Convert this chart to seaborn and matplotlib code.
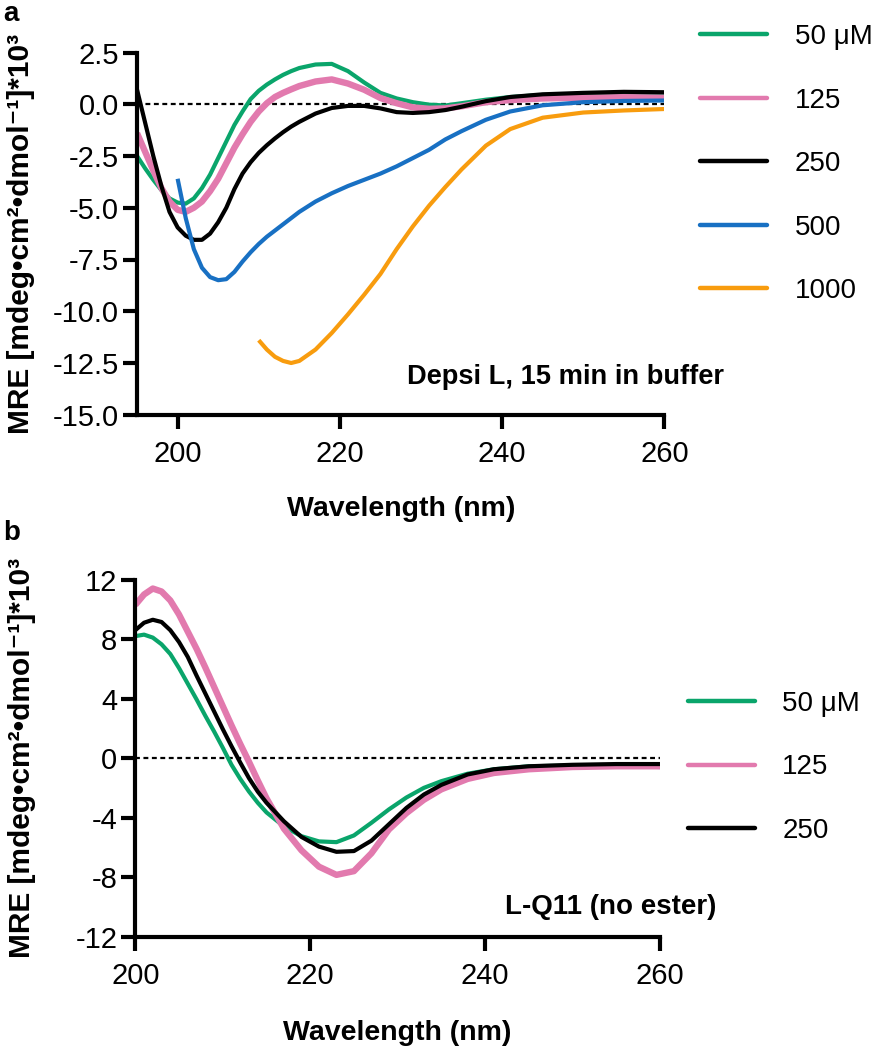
import matplotlib
matplotlib.use("Agg")
import matplotlib.pyplot as plt
from matplotlib.lines import Line2D
import seaborn as sns
import pandas as pd

# panel a: Depsi L, 15 min in buffer
wl_a = [195, 196, 197, 198, 199, 200, 201, 202, 203, 204, 205, 206, 207, 208,
        209, 210, 211, 212, 213, 214, 215, 217, 219, 221, 223, 225, 227, 229,
        231, 233, 235, 238, 241, 245, 250, 255, 260]
a_50 = [-2.5, -3.1, -3.65, -4.15, -4.55, -4.75, -4.8, -4.55, -4.05, -3.4, -2.6,
        -1.8, -1.0, -0.35, 0.25, 0.65, 0.95, 1.2, 1.42, 1.6, 1.75, 1.92, 1.95,
        1.6, 1.05, 0.55, 0.28, 0.1, -0.02, -0.06, 0.05, 0.22, 0.35, 0.45, 0.5,
        0.5, 0.5]
a_125 = [-1.4, -2.3, -3.2, -4.05, -4.7, -5.1, -5.2, -5.0, -4.7, -4.2, -3.6,
         -2.85, -2.1, -1.45, -0.85, -0.35, 0.05, 0.35, 0.55, 0.72, 0.88, 1.1,
         1.2, 1.0, 0.7, 0.3, 0.05, -0.15, -0.22, -0.2, -0.1, 0.1, 0.2, 0.28,
         0.32, 0.34, 0.32]
a_250 = [0.7, -0.9, -2.5, -3.95, -5.2, -5.95, -6.35, -6.55, -6.55, -6.25, -5.7,
         -5.0, -4.1, -3.35, -2.8, -2.35, -1.98, -1.65, -1.35, -1.08, -0.85,
         -0.45, -0.18, -0.08, -0.08, -0.2, -0.38, -0.42, -0.38, -0.28, -0.12,
         0.15, 0.35, 0.48, 0.55, 0.6, 0.58]
wl_a500 = [200, 201, 202, 203, 204, 205, 206, 207, 208, 209, 210, 211, 212,
           213, 214, 215, 217, 219, 221, 223, 225, 227, 229, 231, 233, 235,
           238, 241, 245, 250, 255, 260]
a_500 = [-3.6, -5.5, -7.0, -7.9, -8.35, -8.5, -8.45, -8.1, -7.6, -7.15, -6.75,
         -6.4, -6.1, -5.8, -5.5, -5.2, -4.7, -4.3, -3.95, -3.65, -3.35, -3.0,
         -2.6, -2.2, -1.7, -1.3, -0.75, -0.35, -0.05, 0.1, 0.16, 0.18]
wl_a1000 = [210, 211, 212, 213, 214, 215, 217, 219, 221, 223, 225, 227, 229,
            231, 233, 235, 238, 241, 245, 250, 255, 260]
a_1000 = [-11.4, -11.85, -12.2, -12.4, -12.5, -12.4, -11.85, -11.05, -10.15,
          -9.2, -8.2, -7.0, -5.9, -4.9, -4.0, -3.15, -2.0, -1.2, -0.65, -0.4,
          -0.3, -0.23]

# panel b: L-Q11 (no ester)
wl_b = [200, 201, 202, 203, 204, 205, 206, 207, 208, 209, 210, 211, 212, 213,
        214, 215, 217, 219, 221, 223, 225, 227, 229, 231, 233, 235, 238, 241,
        245, 250, 255, 260]
b_50 = [8.2, 8.3, 8.1, 7.65, 7.0, 6.05, 5.0, 3.95, 2.85, 1.8, 0.7, -0.45, -1.4,
        -2.25, -3.0, -3.65, -4.6, -5.25, -5.6, -5.65, -5.2, -4.35, -3.45,
        -2.65, -2.0, -1.55, -1.05, -0.75, -0.55, -0.5, -0.5, -0.6]
b_125 = [10.3, 11.0, 11.4, 11.2, 10.6, 9.65, 8.5, 7.35, 6.1, 4.8, 3.5, 2.2,
         0.95, -0.25, -1.5, -2.7, -4.75, -6.2, -7.3, -7.85, -7.6, -6.4, -4.8,
         -3.7, -2.8, -2.1, -1.4, -1.0, -0.75, -0.6, -0.55, -0.55]
b_250 = [8.6, 9.1, 9.3, 9.15, 8.6, 7.8, 6.8, 5.55, 4.35, 3.15, 1.95, 0.8, -0.3,
         -1.35, -2.25, -3.0, -4.25, -5.3, -5.95, -6.3, -6.25, -5.55, -4.45,
         -3.35, -2.45, -1.8, -1.1, -0.75, -0.55, -0.45, -0.4, -0.4]

labels_a = ["50 \u03bcM", "125", "250", "500", "1000"]
labels_b = ["50 \u03bcM", "125", "250"]
colors = ["#0aa56b", "#e27aae", "#000000", "#1870c3", "#f89c0e"]
widths = [3.0, 4.6, 3.0, 3.0, 3.0]

sns.set_style("ticks")
plt.rcParams["font.family"] = ["Liberation Sans", "DejaVu Sans"]
plt.rcParams.update({"axes.edgecolor": "black", "xtick.color": "black",
                     "ytick.color": "black", "text.color": "black",
                     "axes.labelcolor": "black"})

fig = plt.figure(figsize=(8.73, 10.5), dpi=100)
ax_a = fig.add_axes([0.157, 0.605, 0.604, 0.345])
ax_b = fig.add_axes([0.155, 0.108, 0.601, 0.340])

series_a = [(wl_a, a_50), (wl_a, a_125), (wl_a, a_250),
            (wl_a500, a_500), (wl_a1000, a_1000)]
series_b = [(wl_b, b_50), (wl_b, b_125), (wl_b, b_250)]

ylab = "MRE [mdeg\u2022cm\u00b2\u2022dmol\u207b\u00b9]*10\u00b3"


def style_axis(ax, xlim, ylim, yticks, yfmt, xlab_pos, ylab_pos):
    ax.axhline(0, color="black", lw=1.6, ls=(0, (2.2, 1.6)), zorder=0.5)
    ax.set_xlim(*xlim)
    ax.set_ylim(*ylim)
    ax.set_xticks([200, 220, 240, 260])
    ax.set_yticks(yticks)
    ax.set_yticklabels([yfmt.format(v) for v in yticks])
    for s in ["top", "right"]:
        ax.spines[s].set_visible(False)
    for s in ["left", "bottom"]:
        ax.spines[s].set_linewidth(3.0)
    ax.tick_params(width=3.0, length=10, labelsize=21, pad=3)
    ax.tick_params(axis="x", pad=8)
    ax.set_xlabel("Wavelength (nm)", fontsize=20.5, fontweight="bold")
    ax.set_ylabel(ylab, fontsize=21.5, fontweight="bold")
    ax.xaxis.set_label_coords(*xlab_pos)
    ax.yaxis.set_label_coords(*ylab_pos)


for (x, y), lab, c, w in zip(series_a, labels_a, colors, widths):
    df = pd.DataFrame({"wl": x, "mre": y})
    sns.lineplot(data=df, x="wl", y="mre", ax=ax_a, color=c, lw=w,
                 solid_capstyle="butt", solid_joinstyle="round")
for (x, y), lab, c, w in zip(series_b, labels_b, colors, widths):
    df = pd.DataFrame({"wl": x, "mre": y})
    sns.lineplot(data=df, x="wl", y="mre", ax=ax_b, color=c, lw=w,
                 solid_capstyle="butt", solid_joinstyle="round")

style_axis(ax_a, (195, 260), (-15, 2.5), [-15, -12.5, -10, -7.5, -5, -2.5, 0, 2.5],
           "{:.1f}", (0.5, -0.225), (-0.194, 0.5))
style_axis(ax_b, (200, 260), (-12, 12), [-12, -8, -4, 0, 4, 8, 12],
           "{:.0f}", (0.5, -0.235), (-0.189, 0.5))

ax_a.text(0.512, 0.105, "Depsi L, 15 min in buffer", transform=ax_a.transAxes,
          fontsize=19.6, fontweight="bold", ha="left", va="center", clip_on=False)
ax_b.text(0.705, 0.084, "L-Q11 (no ester)", transform=ax_b.transAxes,
          fontsize=20, fontweight="bold", ha="left", va="center", clip_on=False)

h_a = [Line2D([], [], color=c, lw=3.2) for c in colors]
fig.legend(h_a, labels_a, loc="upper left", bbox_to_anchor=(0.802, 0.977),
           frameon=False, fontsize=20, handlelength=2.4, handletextpad=1.0,
           labelspacing=1.35, borderpad=0, borderaxespad=0)
h_b = [Line2D([], [], color=c, lw=3.2) for c in colors[:3]]
fig.legend(h_b, labels_b, loc="upper left", bbox_to_anchor=(0.788, 0.342),
           frameon=False, fontsize=20, handlelength=2.4, handletextpad=1.0,
           labelspacing=1.35, borderpad=0, borderaxespad=0)

fig.text(0.004, 0.999, "a", fontsize=20, fontweight="bold", va="top")
fig.text(0.004, 0.505, "b", fontsize=20, fontweight="bold", va="top")

fig.savefig("out.png", dpi=100)
